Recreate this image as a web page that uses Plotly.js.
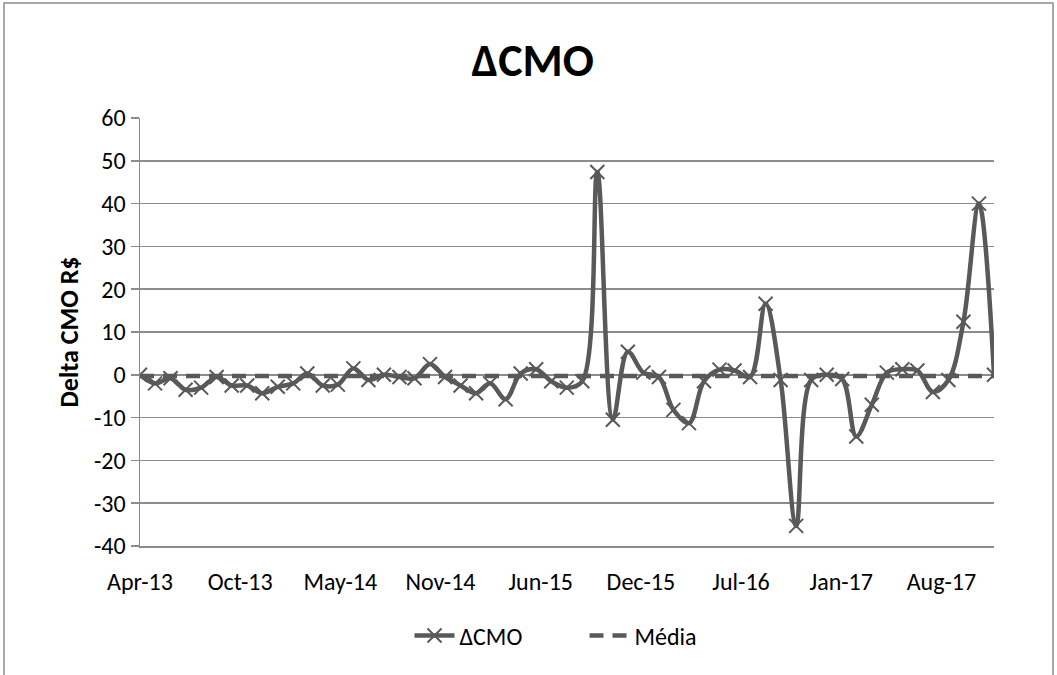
<!DOCTYPE html>
<html>
<head>
<meta charset="utf-8">
<script src="https://cdn.plot.ly/plotly-3.0.1.min.js"></script>
<style>
  html, body { margin: 0; padding: 0; background: #ffffff; }
  #chart { width: 1057px; height: 675px; }
</style>
</head>
<body>
<div id="chart"></div>
<script>
// Monthly dates (Apr-13 .. Dec-17)
const months = [
  '2013-04-01','2013-05-01','2013-06-01','2013-07-01','2013-08-01','2013-09-01','2013-10-01','2013-11-01','2013-12-01',
  '2014-01-01','2014-02-01','2014-03-01','2014-04-01','2014-05-01','2014-06-01','2014-07-01','2014-08-01','2014-09-01','2014-10-01','2014-11-01','2014-12-01',
  '2015-01-01','2015-02-01','2015-03-01','2015-04-01','2015-05-01','2015-06-01','2015-07-01','2015-08-01','2015-09-01','2015-10-01','2015-11-01','2015-12-01',
  '2016-01-01','2016-02-01','2016-03-01','2016-04-01','2016-05-01','2016-06-01','2016-07-01','2016-08-01','2016-09-01','2016-10-01','2016-11-01','2016-12-01',
  '2017-01-01','2017-02-01','2017-03-01','2017-04-01','2017-05-01','2017-06-01','2017-07-01','2017-08-01','2017-09-01','2017-10-01','2017-11-01','2017-12-01'
];

// ΔCMO values (R$)
const deltaCMO = [
  0, -2, -0.8, -3.5, -3, -0.5, -2.5, -2.5, -4.3,
  -2.8, -2, 0.3, -2.5, -2.3, 1.5, -1.2, 0, -0.5, -0.8, 2.5, -0.5,
  -2.5, -4.3, -2, -5.7, 0.3, 1.3, -1.5, -3, -1.5, 47.4, -10.5, 5.4,
  0.5, -0.5, -8.2, -11.3, -1.5, 1.2, 1, -0.5, 16.6, -1.2, -35.3, -1.2,
  0, -1, -14.4, -7, 0.5, 1.3, 1, -4, -1.2, 12.4, 40, 0
];

// Média (constant mean line)
const mediaValue = -0.3;
const media = months.map(() => mediaValue);

// Axis tick labels
const tickDates = ['2013-04-01','2013-10-18','2014-05-06','2014-11-22','2015-06-10','2015-12-27','2016-07-14','2017-01-30','2017-08-18'];
const tickLabels = ['Apr-13','Oct-13','May-14','Nov-14','Jun-15','Dec-15','Jul-16','Jan-17','Aug-17'];
const yTicks = [-40, -30, -20, -10, 0, 10, 20, 30, 40, 50, 60];
const yTickLabels = ['-40', '-30', '-20', '-10', '0', '10', '20', '30', '40', '50', '60'];

const FONT = 'Carlito, Lato, "Liberation Sans", sans-serif';
const GREY = '#595959';
const GRID = '#8c8c8c';

const traces = [
  {
    x: months, y: deltaCMO, name: 'ΔCMO', type: 'scatter', mode: 'lines+markers',
    line: { color: GREY, width: 4.5, shape: 'spline', smoothing: 1 },
    marker: { symbol: 'x-thin', size: 14, color: GREY, line: { color: GREY, width: 2 } }
  },
  {
    x: months, y: media, name: 'Média', type: 'scatter', mode: 'lines',
    line: { color: GREY, width: 4.5, dash: '14px,9px' }
  }
];

const layout = {
  width: 1057, height: 675,
  margin: { l: 140, r: 63, t: 118, b: 129 },
  paper_bgcolor: '#ffffff', plot_bgcolor: '#ffffff',
  font: { family: FONT, size: 24, color: '#000000' },
  title: {
    text: '<b>ΔCMO</b>', font: { family: FONT, size: 46, color: '#000000' },
    x: 0.504, xref: 'container', xanchor: 'center', y: 0.911, yanchor: 'middle'
  },
  showlegend: true,
  legend: {
    orientation: 'h', xref: 'container', x: 0.553, xanchor: 'center',
    yref: 'container', y: 0.058, yanchor: 'middle',
    font: { family: FONT, size: 24, color: '#000000' },
    itemwidth: 40, entrywidth: 120
  },
  xaxis: {
    type: 'date', range: ['2013-04-01', '2017-12-01'],
    tickvals: tickDates, ticktext: tickLabels,
    showgrid: false, zeroline: false,
    showline: true, linecolor: GRID, linewidth: 1.5,
    ticks: '', ticklabelstandoff: 14,
    tickfont: { family: FONT, size: 24, color: '#000000' }
  },
  yaxis: {
    range: [-40, 60], tickvals: yTicks, ticktext: yTickLabels,
    showgrid: true, gridcolor: GRID, gridwidth: 1.5,
    zeroline: false,
    showline: true, linecolor: GRID, linewidth: 1.5,
    ticks: 'outside', ticklen: 8, tickcolor: GRID, tickwidth: 1.5,
    tickfont: { family: FONT, size: 24, color: '#000000' },
    title: { text: '<b>Delta CMO R$</b>', font: { family: FONT, size: 26, color: '#000000' }, standoff: 8 }
  },
  shapes: [
    {
      type: 'rect', xref: 'paper', yref: 'paper',
      x0: (4 - 140) / 854, x1: (1053 - 140) / 854,
      y0: (546 - 690) / 428, y1: (546 - 3) / 428,
      line: { color: '#8c8c8c', width: 1.5 }, fillcolor: 'rgba(0,0,0,0)', layer: 'below'
    }
  ]
};

Plotly.newPlot('chart', traces, layout, { displayModeBar: false, staticPlot: true });
</script>
</body>
</html>
